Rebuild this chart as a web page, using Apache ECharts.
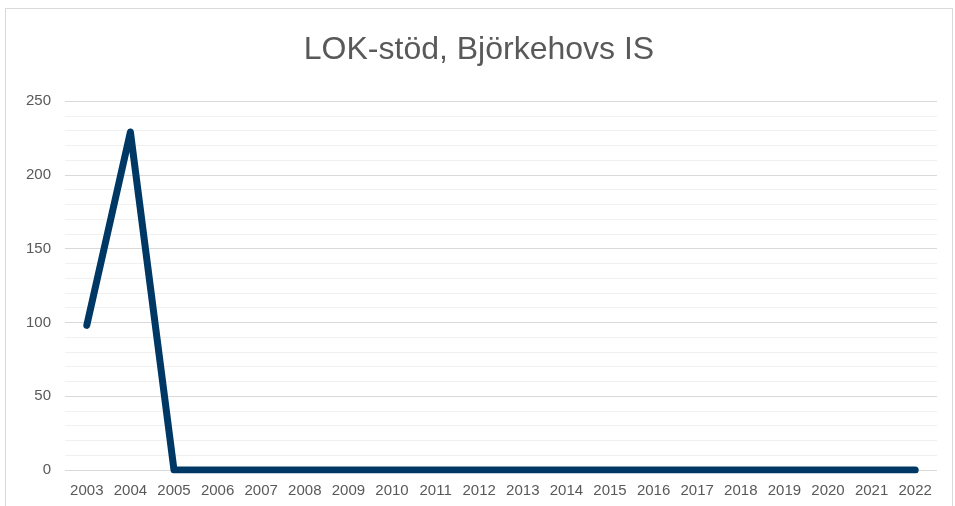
<!DOCTYPE html>
<html>
	<head>
		<meta charset="utf-8" />
		<title>LOK-stöd</title>
		<style>
			html, body { margin: 0; padding: 0; background: #fff; }
			#chart { position: absolute; left: 5px; top: 8px; width: 948px; height: 498px; border: 1px solid #d9d9d9; border-bottom: none; box-sizing: border-box; }
		</style>
	</head>
	<body>
		<div id="chart"></div>
		<script src="https://cdn.jsdelivr.net/npm/echarts@6/dist/echarts.min.js"></script>
		<script>
			// data
			var years = ['2003','2004','2005','2006','2007','2008','2009','2010','2011','2012','2013','2014','2015','2016','2017','2018','2019','2020','2021','2022'];
			var values = [98, 229, 0, 0, 0, 0, 0, 0, 0, 0, 0, 0, 0, 0, 0, 0, 0, 0, 0, 0];
			var yTicks = [0, 50, 100, 150, 200, 250];

			var myChart = echarts.init(document.getElementById('chart'));
			myChart.setOption({
				animation: false,
				title: {
					text: 'LOK-stöd, Björkehovs IS',
					left: 'center',
					top: 20,
					textStyle: { fontFamily: 'Liberation Sans', fontSize: 32, fontWeight: 'normal', color: '#595959' }
				},
				grid: { left: 59, right: 15, top: 92, bottom: 36 },
				xAxis: {
					type: 'category',
					data: years,
					boundaryGap: true,
					axisLine: { show: false },
					axisTick: { show: false },
					axisLabel: { fontFamily: 'Liberation Sans', fontSize: 15, color: '#595959', margin: 13 }
				},
				yAxis: {
					type: 'value',
					min: yTicks[0],
					max: yTicks[yTicks.length - 1],
					interval: 50,
					axisLine: { show: false },
					axisTick: { show: false },
					axisLabel: { fontFamily: 'Liberation Sans', fontSize: 15, color: '#595959', margin: 14 },
					splitLine: { lineStyle: { color: '#d9d9d9', width: 1 } },
					minorTick: { show: false, splitNumber: 5 },
					minorSplitLine: { show: true, lineStyle: { color: '#f0f0f0', width: 1 } }
				},
				series: [{
					type: 'line',
					data: values,
					showSymbol: false,
					lineStyle: { color: '#003865', width: 7, cap: 'round', join: 'round' }
				}]
			});
		</script>
	</body>
</html>
